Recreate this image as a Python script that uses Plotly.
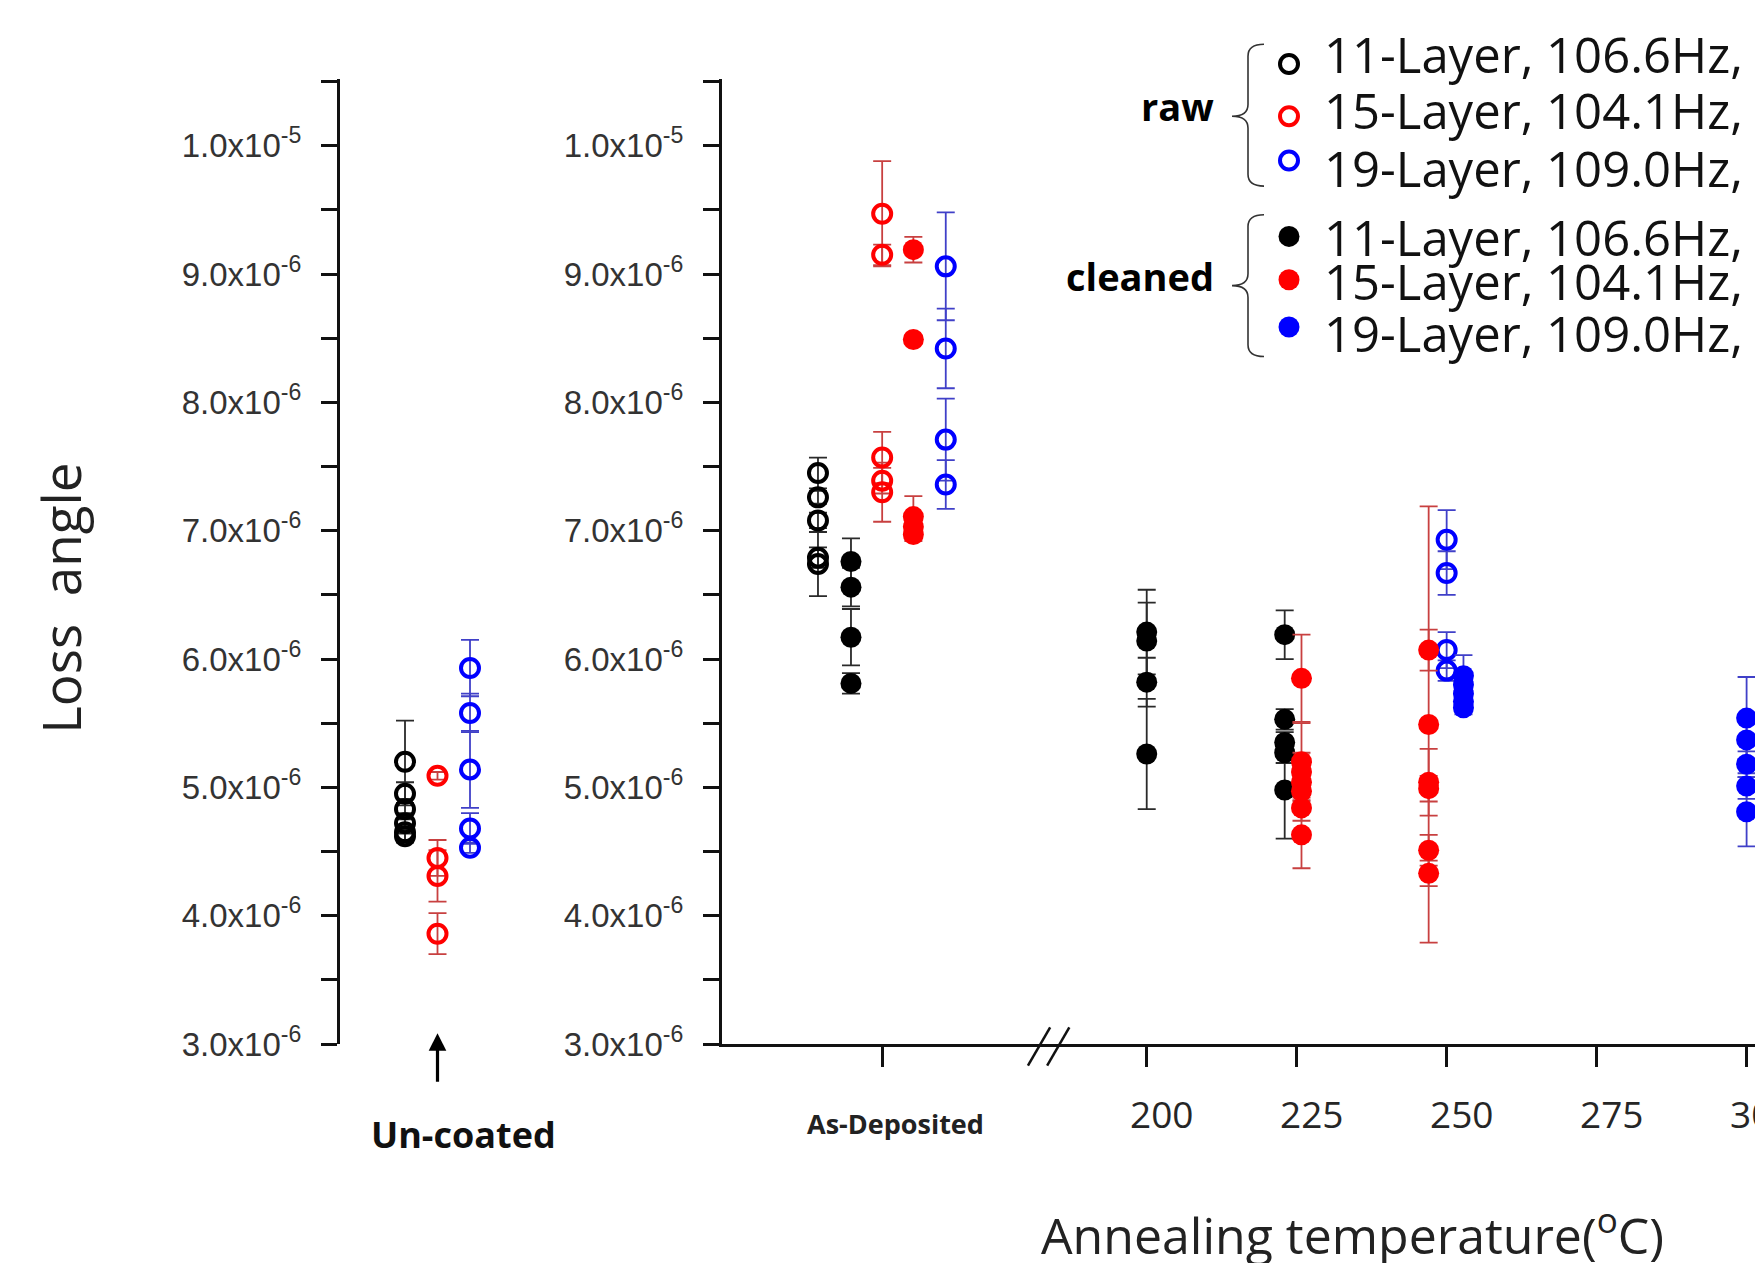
import plotly.graph_objects as go

# ---------------- data (loss angle, units of 1e-6) ----------------
legend_labels = ["11-Layer, 106.6Hz,", "15-Layer, 104.1Hz,", "19-Layer, 109.0Hz,"]
y_tick_vals = [3.0, 4.0, 5.0, 6.0, 7.0, 8.0, 9.0, 10.0]
y_tick_text = ["3.0x10<sup>-6</sup>", "4.0x10<sup>-6</sup>", "5.0x10<sup>-6</sup>", "6.0x10<sup>-6</sup>",
               "7.0x10<sup>-6</sup>", "8.0x10<sup>-6</sup>", "9.0x10<sup>-6</sup>", "1.0x10<sup>-5</sup>"]
temp_ticks = [200, 225, 250, 275, 300]

raw11_cond = ["Un-coated"] * 6 + ["As-Deposited"] * 5
raw11_val = [5.20, 4.95, 4.83, 4.72, 4.65, 4.62, 7.45, 7.26, 7.08, 6.79, 6.74]
raw11_err = [0.32, 0.09, 0.08, 0.08, 0.06, 0.05, 0.12, 0.05, 0.06, 0.08, 0.25]

raw15_cond = ["Un-coated"] * 4 + ["As-Deposited"] * 5
raw15_val = [5.09, 4.45, 4.31, 3.86, 9.47, 9.15, 7.57, 7.39, 7.30]
raw15_err = [0.03, 0.14, 0.20, 0.16, 0.41, 0.08, 0.20, 0.10, 0.23]

raw19_cond = ["Un-coated"] * 5 + ["As-Deposited"] * 4 + [250] * 4
raw19_val = [5.93, 5.58, 5.14, 4.68, 4.53, 9.06, 8.42, 7.71, 7.36, 6.93, 6.67, 6.07, 5.91]
raw19_err = [0.22, 0.15, 0.30, 0.12, 0.04, 0.42, 0.31, 0.32, 0.19, 0.23, 0.17, 0.14, 0.08]

cln11_cond = ["As-Deposited"] * 4 + [200] * 4 + [225] * 5
cln11_val = [6.76, 6.56, 6.17, 5.81, 6.21, 6.14, 5.82, 5.26, 6.19, 5.53, 5.35, 5.27, 4.98]
cln11_err = [0.18, 0.15, 0.22, 0.08, 0.33, 0.30, 0.19, 0.43, 0.19, 0.08, 0.08, 0.08, 0.38]

cln15_cond = ["As-Deposited"] * 5 + [225] * 7 + [250] * 6
cln15_val = [9.19, 8.49, 7.11, 7.03, 6.97, 5.85, 5.20, 5.12, 5.04, 4.97, 4.84, 4.63,
             6.07, 5.49, 5.04, 4.99, 4.51, 4.33]
cln15_err = [0.10, 0.03, 0.16, 0.05, 0.05, 0.34, 0.30, 0.15, 0.12, 0.12, 0.10, 0.26,
             0.16, 1.70, 0.26, 0.10, 0.12, 0.10]

cln19_cond = [250] * 5 + [300] * 5
cln19_val = [5.87, 5.80, 5.73, 5.67, 5.62, 5.54, 5.37, 5.18, 5.01, 4.81]
cln19_err = [0.16, 0.05, 0.05, 0.05, 0.05, 0.32, 0.15, 0.10, 0.10, 0.27]

# ---------------- placement / style ----------------
SCALE = 1e-6
W, H = 1755, 1263
ASDEP_POS = 155.9
UNCOATED_SLOT = {"11": 2, "15": 3, "19": 4}
ASDEP_OFFSET = {"raw11": -10.7, "cln11": -5.2, "raw15": 0.0, "cln15": 5.2, "raw19": 10.6, "cln19": 0.0}
TEMP_OFFSET = {("cln11", 225): -2.0, ("cln15", 225): 0.8, ("cln15", 250): -3.0, ("cln19", 250): 2.8}
COLORS = {"11": "#000000", "15": "#ff0000", "19": "#0000ff"}
ERR_COLORS = {"11": "#2a2a2a", "15": "#c84040", "19": "#4040c8"}
FONT = "Open Sans, sans-serif"

series = [
    ("raw11", raw11_cond, raw11_val, raw11_err),
    ("raw15", raw15_cond, raw15_val, raw15_err),
    ("raw19", raw19_cond, raw19_val, raw19_err),
    ("cln11", cln11_cond, cln11_val, cln11_err),
    ("cln15", cln15_cond, cln15_val, cln15_err),
    ("cln19", cln19_cond, cln19_val, cln19_err),
]

fig = go.Figure()

def marker_for(name):
    layer = name[3:]
    if name.startswith("raw"):
        return dict(symbol="circle-open", size=18, color=COLORS[layer], line=dict(width=4, color=COLORS[layer]))
    return dict(symbol="circle", size=21, color=COLORS[layer], line=dict(width=0))

for name, cond, val, err in series:
    layer = name[3:]
    lx, ly, le, rx, ry, re_ = [], [], [], [], [], []
    for c, v, e in zip(cond, val, err):
        if c == "Un-coated":
            lx.append(UNCOATED_SLOT[layer]); ly.append(v * SCALE); le.append(e * SCALE)
        elif c == "As-Deposited":
            rx.append(ASDEP_POS + ASDEP_OFFSET[name]); ry.append(v * SCALE); re_.append(e * SCALE)
        else:
            rx.append(c + TEMP_OFFSET.get((name, c), 0.0)); ry.append(v * SCALE); re_.append(e * SCALE)
    eb = lambda arr: dict(type="data", array=arr, visible=True, color=ERR_COLORS[layer], thickness=1.8, width=9)
    if lx:
        fig.add_trace(go.Scatter(x=lx, y=ly, mode="markers", marker=marker_for(name),
                                 error_y=eb(le), xaxis="x", yaxis="y", showlegend=False))
    if rx:
        fig.add_trace(go.Scatter(x=rx, y=ry, mode="markers", marker=marker_for(name),
                                 error_y=eb(re_), xaxis="x2", yaxis="y2", showlegend=False))

# legend markers on a pixel overlay axis
leg_x = 1289
leg_rows = [65, 118, 163, 240, 284, 332]
leg_text_y = [55, 112, 171, 241, 285, 338]
leg_names = ["raw11", "raw15", "raw19", "cln11", "cln15", "cln19"]
for nm, yy in zip(leg_names, leg_rows):
    fig.add_trace(go.Scatter(x=[leg_x], y=[yy], mode="markers", marker=marker_for(nm),
                             xaxis="x3", yaxis="y3", showlegend=False))

Y_DOMAIN = [1 - 1060 / H, 1 - 80.2 / H]
Y_RANGE = [3.0 * SCALE, 10.52 * SCALE]
tickfont_y = dict(family="Liberation Sans, Arial, sans-serif", size=33, color="#333333")
minor_vals = [(v + 0.5) * SCALE for v in y_tick_vals]

def yaxis_cfg(anchor):
    return dict(domain=Y_DOMAIN, range=Y_RANGE, anchor=anchor, showline=True, linewidth=3, linecolor="#111",
                ticks="outside", ticklen=16, tickwidth=2.5, tickcolor="#111",
                tickmode="array", tickvals=[v * SCALE for v in y_tick_vals], ticktext=y_tick_text,
                tickfont=tickfont_y, ticklabelstandoff=13, showgrid=False, zeroline=False,
                minor=dict(tickmode="array", tickvals=minor_vals, ticks="outside", ticklen=16,
                           tickwidth=2.5, tickcolor="#111", showgrid=False))

fig.update_layout(
    width=W, height=H, margin=dict(l=0, r=0, t=0, b=0),
    paper_bgcolor="white", plot_bgcolor="rgba(0,0,0,0)", showlegend=False,
    xaxis=dict(domain=[340 / W, 535 / W], range=[0, 6], visible=False, anchor="y"),
    yaxis=yaxis_cfg("x"),
    xaxis2=dict(domain=[722 / W, 1.0], range=[129.2, 301.4], anchor="y2", showline=True, linewidth=3,
                linecolor="#111", ticks="outside", ticklen=20, tickwidth=2.5, tickcolor="#111",
                tickmode="array", tickvals=[ASDEP_POS] + temp_ticks, showticklabels=False,
                showgrid=False, zeroline=False),
    yaxis2=yaxis_cfg("x2"),
    xaxis3=dict(domain=[0, 1], range=[0, W], visible=False, anchor="y3"),
    yaxis3=dict(domain=[0, 1], range=[H, 0], visible=False, anchor="x3"),
)

# braces
def brace(top, mid, bot, x_end=1264, x_v=1248, x_tip=1232, r=12):
    return (f"M {x_end},{top} Q {x_v},{top} {x_v},{top + r} L {x_v},{mid - r} "
            f"Q {x_v},{mid} {x_tip},{mid} Q {x_v},{mid} {x_v},{mid + r} L {x_v},{bot - r} "
            f"Q {x_v},{bot} {x_end},{bot}")

shapes = [
    dict(type="path", path=brace(45, 118, 189), xref="x3", yref="y3", line=dict(color="#333", width=1.6)),
    dict(type="path", path=brace(218, 290, 362), xref="x3", yref="y3", line=dict(color="#333", width=1.6)),
]
# axis break marks
for b in (180.2, 183.4):
    shapes.append(dict(type="line", xref="x2", yref="y3", x0=b, y0=1082, x1=b + 3.7, y1=1043,
                       line=dict(color="#111", width=2.5)))
fig.update_layout(shapes=shapes)

annotations = []
for lbl, yy in zip(legend_labels + legend_labels, leg_text_y):
    annotations.append(dict(text=lbl, xref="x3", yref="y3", x=1322, y=yy, xanchor="left", yanchor="middle",
                            showarrow=False, font=dict(family=FONT, size=49, color="#111")))
# temperature tick labels (slightly right of their ticks, as in the original)
for t in temp_ticks:
    annotations.append(dict(text=str(t), xref="x2", yref="y3", x=t, xshift=15, y=1131, yanchor="middle",
                            showarrow=False, font=dict(family=FONT, size=37, color="#262626")))
annotations += [
    dict(text="<b>raw</b>", xref="x3", yref="y3", x=1216, y=108, xanchor="right", yanchor="middle",
         showarrow=False, font=dict(family=FONT, size=38, color="#000")),
    dict(text="<b>cleaned</b>", xref="x3", yref="y3", x=1216, y=280, xanchor="right", yanchor="middle",
         showarrow=False, font=dict(family=FONT, size=38, color="#000")),
    dict(text="Loss\u00a0\u00a0angle", xref="x3", yref="y3", x=61, y=608, textangle=-90,
         showarrow=False, font=dict(family=FONT, size=53, color="#222")),
    dict(text="Annealing temperature(<sup>o</sup>C)", xref="x3", yref="y3", x=1352, y=1251,
         showarrow=False, font=dict(family=FONT, size=50, color="#222")),
    dict(text="<b>As-Deposited</b>", xref="x2", yref="y3", x=ASDEP_POS + 2.2, y=1141,
         showarrow=False, font=dict(family=FONT, size=27, color="#222")),
    dict(text="<b>Un-coated</b>", xref="x3", yref="y3", x=463, y=1152,
         showarrow=False, font=dict(family=FONT, size=36, color="#111")),
    dict(text="", xref="x", yref="y3", x=UNCOATED_SLOT["15"], y=1049, ax=0, ay=50,
         showarrow=True, arrowhead=2, arrowsize=1.1, arrowwidth=3.2, arrowcolor="#000"),
]
fig.update_layout(annotations=annotations)

fig.write_html("out.html")
